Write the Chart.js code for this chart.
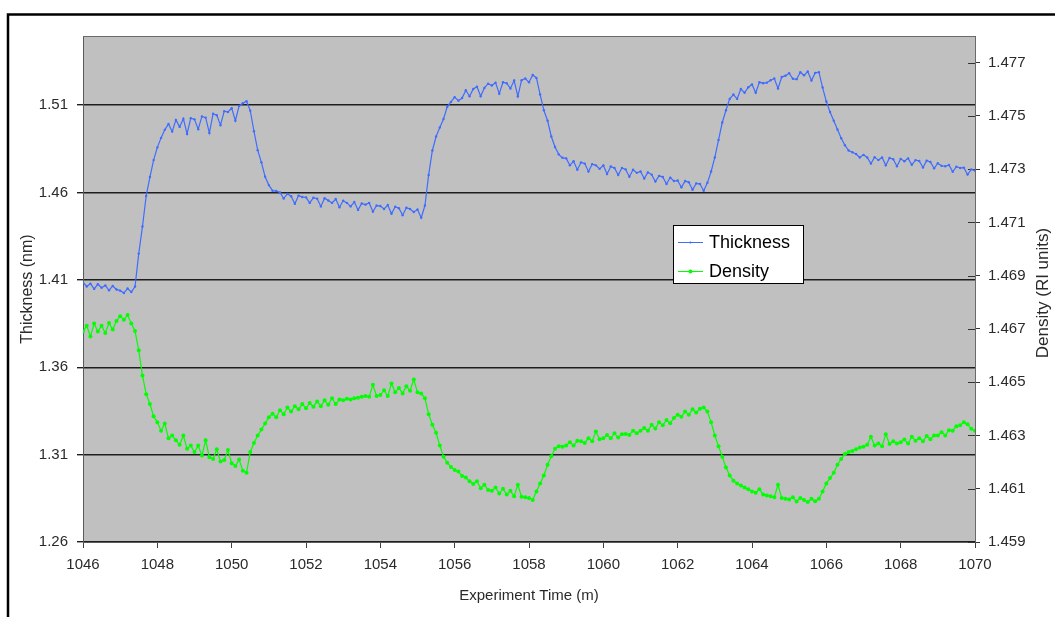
<!DOCTYPE html>
<html>
<head>
<meta charset="utf-8">
<script src="https://cdn.jsdelivr.net/npm/chart.js@4.4.1/dist/chart.umd.min.js"></script>
<style>
  html, body { margin: 0; padding: 0; background: #ffffff; }
  #c { display: block; }
</style>
</head>
<body>
<canvas id="c" width="1055" height="617"></canvas>
<script>
// ---- DATA ----
const times = [
1046.0,1046.1,1046.2,1046.3,1046.4,1046.5,1046.6,1046.7,1046.8,1046.9,
1047.0,1047.1,1047.2,1047.3,1047.4,1047.5,1047.6,1047.7,1047.8,1047.9,
1048.0,1048.1,1048.2,1048.3,1048.4,1048.5,1048.6,1048.7,1048.8,1048.9,
1049.0,1049.1,1049.2,1049.3,1049.4,1049.5,1049.6,1049.7,1049.8,1049.9,
1050.0,1050.1,1050.2,1050.3,1050.4,1050.5,1050.6,1050.7,1050.8,1050.9,
1051.0,1051.1,1051.2,1051.3,1051.4,1051.5,1051.6,1051.7,1051.8,1051.9,
1052.0,1052.1,1052.2,1052.3,1052.4,1052.5,1052.6,1052.7,1052.8,1052.9,
1053.0,1053.1,1053.2,1053.3,1053.4,1053.5,1053.6,1053.7,1053.8,1053.9,
1054.0,1054.1,1054.2,1054.3,1054.4,1054.5,1054.6,1054.7,1054.8,1054.9,
1055.0,1055.1,1055.2,1055.3,1055.4,1055.5,1055.6,1055.7,1055.8,1055.9,
1056.0,1056.1,1056.2,1056.3,1056.4,1056.5,1056.6,1056.7,1056.8,1056.9,
1057.0,1057.1,1057.2,1057.3,1057.4,1057.5,1057.6,1057.7,1057.8,1057.9,
1058.0,1058.1,1058.2,1058.3,1058.4,1058.5,1058.6,1058.7,1058.8,1058.9,
1059.0,1059.1,1059.2,1059.3,1059.4,1059.5,1059.6,1059.7,1059.8,1059.9,
1060.0,1060.1,1060.2,1060.3,1060.4,1060.5,1060.6,1060.7,1060.8,1060.9,
1061.0,1061.1,1061.2,1061.3,1061.4,1061.5,1061.6,1061.7,1061.8,1061.9,
1062.0,1062.1,1062.2,1062.3,1062.4,1062.5,1062.6,1062.7,1062.8,1062.9,
1063.0,1063.1,1063.2,1063.3,1063.4,1063.5,1063.6,1063.7,1063.8,1063.9,
1064.0,1064.1,1064.2,1064.3,1064.4,1064.5,1064.6,1064.7,1064.8,1064.9,
1065.0,1065.1,1065.2,1065.3,1065.4,1065.5,1065.6,1065.7,1065.8,1065.9,
1066.0,1066.1,1066.2,1066.3,1066.4,1066.5,1066.6,1066.7,1066.8,1066.9,
1067.0,1067.1,1067.2,1067.3,1067.4,1067.5,1067.6,1067.7,1067.8,1067.9,
1068.0,1068.1,1068.2,1068.3,1068.4,1068.5,1068.6,1068.7,1068.8,1068.9,
1069.0,1069.1,1069.2,1069.3,1069.4,1069.5,1069.6,1069.7,1069.8,1069.9,
1070.0
];

const thickness = [
1.4085,1.4062,1.4078,1.4048,1.4075,1.4055,1.4068,1.4040,1.4065,1.4045,
1.4038,1.4025,1.4050,1.4030,1.4062,1.4250,1.4405,1.4580,1.4688,1.4785,
1.4858,1.4912,1.4958,1.4992,1.4948,1.5015,1.4975,1.5022,1.4935,1.5025,
1.5018,1.4962,1.5035,1.5028,1.4940,1.5050,1.5042,1.4985,1.5065,1.5060,
1.5082,1.5010,1.5095,1.5110,1.5122,1.5068,1.4950,1.4842,1.4772,1.4690,
1.4642,1.4610,1.4608,1.4600,1.4565,1.4592,1.4578,1.4535,1.4582,1.4574,
1.4572,1.4540,1.4570,1.4564,1.4520,1.4567,1.4554,1.4540,1.4562,1.4515,
1.4552,1.4540,1.4520,1.4545,1.4500,1.4537,1.4530,1.4540,1.4490,1.4525,
1.4522,1.4505,1.4528,1.4478,1.4518,1.4510,1.4470,1.4512,1.4505,1.4488,
1.4502,1.4455,1.4525,1.4700,1.4840,1.4920,1.4972,1.5020,1.5090,1.5118,
1.5145,1.5125,1.5140,1.5185,1.5150,1.5192,1.5205,1.5150,1.5198,1.5222,
1.5212,1.5228,1.5165,1.5230,1.5225,1.5195,1.5240,1.5150,1.5242,1.5252,
1.5230,1.5272,1.5255,1.5160,1.5070,1.5010,1.4920,1.4860,1.4818,1.4798,
1.4795,1.4755,1.4778,1.4730,1.4772,1.4765,1.4720,1.4762,1.4755,1.4735,
1.4755,1.4705,1.4748,1.4740,1.4700,1.4740,1.4732,1.4690,1.4730,1.4712,
1.4720,1.4680,1.4715,1.4702,1.4662,1.4695,1.4688,1.4648,1.4685,1.4665,
1.4668,1.4630,1.4665,1.4658,1.4615,1.4652,1.4648,1.4610,1.4655,1.4720,
1.4800,1.4900,1.5000,1.5070,1.5135,1.5160,1.5135,1.5192,1.5170,1.5202,
1.5218,1.5170,1.5230,1.5225,1.5228,1.5242,1.5252,1.5195,1.5260,1.5268,
1.5282,1.5250,1.5248,1.5288,1.5270,1.5292,1.5240,1.5284,1.5288,1.5200,
1.5120,1.5060,1.5010,1.4960,1.4910,1.4870,1.4840,1.4830,1.4820,1.4800,
1.4815,1.4800,1.4765,1.4802,1.4785,1.4800,1.4755,1.4797,1.4790,1.4750,
1.4792,1.4778,1.4795,1.4758,1.4785,1.4780,1.4742,1.4782,1.4774,1.4738,
1.4767,1.4752,1.4750,1.4757,1.4718,1.4747,1.4740,1.4742,1.4702,1.4732,
1.4725
];

const density = [
1.46690,1.46712,1.46672,1.46720,1.46690,1.46712,1.46685,1.46722,1.46698,1.46730,
1.46748,1.46735,1.46752,1.46720,1.46692,1.46620,1.46525,1.46455,1.46418,1.46372,
1.46350,1.46318,1.46345,1.46290,1.46300,1.46282,1.46265,1.46300,1.46250,1.46262,
1.46238,1.46262,1.46225,1.46282,1.46218,1.46212,1.46248,1.46202,1.46208,1.46245,
1.46196,1.46185,1.46210,1.46168,1.46160,1.46238,1.46272,1.46300,1.46322,1.46345,
1.46368,1.46382,1.46368,1.46395,1.46380,1.46405,1.46390,1.46410,1.46398,1.46418,
1.46402,1.46422,1.46408,1.46428,1.46410,1.46432,1.46415,1.46440,1.46418,1.46435,
1.46432,1.46438,1.46435,1.46440,1.46442,1.46445,1.46448,1.46445,1.46490,1.46448,
1.46452,1.46470,1.46448,1.46495,1.46462,1.46478,1.46458,1.46485,1.46468,1.46510,
1.46462,1.46458,1.46440,1.46380,1.46340,1.46310,1.46262,1.46220,1.46198,1.46182,
1.46170,1.46165,1.46148,1.46142,1.46128,1.46118,1.46128,1.46102,1.46115,1.46095,
1.46092,1.46105,1.46082,1.46100,1.46078,1.46092,1.46072,1.46115,1.46070,1.46068,
1.46065,1.46058,1.46090,1.46120,1.46150,1.46190,1.46222,1.46250,1.46260,1.46258,
1.46262,1.46275,1.46262,1.46280,1.46278,1.46272,1.46290,1.46278,1.46315,1.46286,
1.46290,1.46302,1.46290,1.46308,1.46292,1.46305,1.46306,1.46302,1.46318,1.46308,
1.46318,1.46328,1.46318,1.46340,1.46326,1.46350,1.46338,1.46358,1.46346,1.46366,
1.46378,1.46370,1.46390,1.46378,1.46398,1.46386,1.46400,1.46405,1.46390,1.46350,
1.46300,1.46260,1.46220,1.46180,1.46150,1.46130,1.46120,1.46112,1.46105,1.46098,
1.46090,1.46085,1.46098,1.46078,1.46075,1.46072,1.46068,1.46115,1.46065,1.46062,
1.46060,1.46068,1.46052,1.46065,1.46058,1.46050,1.46062,1.46053,1.46062,1.46090,
1.46120,1.46140,1.46160,1.46190,1.46212,1.46230,1.46238,1.46242,1.46248,1.46255,
1.46258,1.46265,1.46295,1.46262,1.46270,1.46260,1.46305,1.46268,1.46278,1.46270,
1.46275,1.46285,1.46270,1.46295,1.46280,1.46290,1.46278,1.46298,1.46286,1.46300,
1.46300,1.46312,1.46300,1.46320,1.46318,1.46335,1.46338,1.46350,1.46342,1.46325,
1.46318
];

const xTicks = [1046,1048,1050,1052,1054,1056,1058,1060,1062,1064,1066,1068,1070];
const thicknessTicks = [1.26,1.31,1.36,1.41,1.46,1.51];
const densityTicks = [1.459,1.461,1.463,1.465,1.467,1.469,1.471,1.473,1.475,1.477];
const xRange = [1046, 1070];
const thicknessRange = [1.26, 1.5495];
const densityRange = [1.459, 1.478];
const seriesNames = ['Thickness', 'Density'];
const axisTitles = { x: 'Experiment Time (m)', y: 'Thickness (nm)', y2: 'Density (RI units)' };

// ---- STYLE ----
const FONT = "'Liberation Sans', Arial, sans-serif";
const BLUE = '#3f6cff';
const GREEN = '#00ff00';
const TEXT = '#2a2a2a';

const frameAndBackground = {
  id: 'frameAndBackground',
  beforeDraw(chart) {
    const { ctx, chartArea: a } = chart;
    ctx.save();
    ctx.fillStyle = '#ffffff';
    ctx.fillRect(0, 0, chart.width, chart.height);
    ctx.strokeStyle = '#000000';
    ctx.lineWidth = 2.5;
    ctx.strokeRect(8, 14.5, chart.width + 50, chart.height + 50);
    ctx.fillStyle = '#c0c0c0';
    ctx.fillRect(a.left, a.top, a.right - a.left, a.bottom - a.top);
    ctx.restore();
  },
  beforeDatasetsDraw(chart) {
    const { ctx, chartArea: a } = chart;
    ctx.save();
    ctx.strokeStyle = '#6a6a6a';
    ctx.lineWidth = 1;
    ctx.beginPath();
    ctx.moveTo(a.left, a.top + 0.5);
    ctx.lineTo(a.right + 0.5, a.top + 0.5);
    ctx.lineTo(a.right + 0.5, a.bottom);
    ctx.stroke();
    // inward tick marks on right axis
    const s = chart.scales.y2;
    ctx.strokeStyle = '#333333';
    ctx.beginPath();
    s.ticks.forEach(t => {
      const y = Math.round(s.getPixelForValue(t.value)) + 0.5;
      ctx.moveTo(a.right - 7, y);
      ctx.lineTo(a.right, y);
    });
    ctx.stroke();
    ctx.restore();
  },
  afterDraw(chart) {
    const { ctx, chartArea: a } = chart;
    ctx.save();
    // right axis title (reads bottom-to-top)
    ctx.fillStyle = TEXT;
    ctx.font = '17px ' + FONT;
    ctx.textAlign = 'center';
    ctx.textBaseline = 'middle';
    ctx.translate(1043, (a.top + a.bottom) / 2 + 4);
    ctx.rotate(-Math.PI / 2);
    ctx.fillText(axisTitles.y2, 0, 0);
    ctx.restore();

    // legend box
    ctx.save();
    const bx = 673, by = 225, bw = 130, bh = 58;
    ctx.fillStyle = '#ffffff';
    ctx.fillRect(bx, by, bw, bh);
    ctx.strokeStyle = '#000000';
    ctx.lineWidth = 1;
    ctx.strokeRect(bx + 0.5, by + 0.5, bw, bh);
    chart.data.datasets.forEach((ds, i) => {
      const y = by + 17 + i * 29;
      ctx.strokeStyle = ds.borderColor;
      ctx.lineWidth = 1;
      ctx.beginPath();
      ctx.moveTo(bx + 5, y + 0.5);
      ctx.lineTo(bx + 30, y + 0.5);
      ctx.stroke();
      ctx.fillStyle = ds.borderColor;
      ctx.beginPath();
      ctx.arc(bx + 17.5, y + 0.5, i === 0 ? 1 : 2, 0, Math.PI * 2);
      ctx.fill();
      ctx.fillStyle = '#000000';
      ctx.font = '18px ' + FONT;
      ctx.textAlign = 'left';
      ctx.textBaseline = 'middle';
      ctx.fillText(ds.label, bx + 36, y + 1);
    });
    ctx.restore();
  }
};

const mk = (vals) => times.map((t, i) => ({ x: t, y: vals[i] }));

new Chart(document.getElementById('c'), {
  type: 'line',
  data: {
    datasets: [
      {
        label: seriesNames[0],
        data: mk(thickness),
        yAxisID: 'y',
        borderColor: BLUE,
        backgroundColor: BLUE,
        borderWidth: 1.2,
        pointRadius: 1.2,
        pointBorderWidth: 0,
        pointBackgroundColor: BLUE,
        tension: 0,
        fill: false
      },
      {
        label: seriesNames[1],
        data: mk(density),
        yAxisID: 'y2',
        borderColor: GREEN,
        backgroundColor: GREEN,
        borderWidth: 1.2,
        pointRadius: 2,
        pointBorderWidth: 0,
        pointBackgroundColor: GREEN,
        tension: 0,
        fill: false
      }
    ]
  },
  options: {
    responsive: false,
    animation: false,
    devicePixelRatio: 1,
    layout: { padding: { top: 36, left: 0, right: 0, bottom: 0 } },
    plugins: { legend: { display: false }, tooltip: { enabled: false }, title: { display: false } },
    scales: {
      x: {
        type: 'linear',
        position: 'bottom',
        min: xRange[0],
        max: xRange[1],
        afterFit(s) { s.height = 75; },
        afterBuildTicks(s) { s.ticks = xTicks.map(v => ({ value: v })); },
        ticks: {
          color: TEXT,
          font: { family: FONT, size: 15 },
          padding: 8,
          maxRotation: 0,
          autoSkip: false,
          callback: v => String(v)
        },
        grid: { drawOnChartArea: false, drawTicks: true, tickLength: 6, color: '#404040', lineWidth: 1 },
        border: { display: true, color: '#5a5a5a', width: 1 },
        title: {
          display: true,
          text: axisTitles.x,
          color: TEXT,
          font: { family: FONT, size: 15 },
          padding: { top: 0, bottom: 12 }
        }
      },
      y: {
        type: 'linear',
        position: 'left',
        min: thicknessRange[0],
        max: thicknessRange[1],
        afterFit(s) { s.width = 83; },
        afterBuildTicks(s) { s.ticks = thicknessTicks.map(v => ({ value: v })); },
        ticks: {
          color: TEXT,
          font: { family: FONT, size: 15 },
          padding: 9,
          autoSkip: false,
          callback: v => v.toFixed(2)
        },
        grid: { drawOnChartArea: true, drawTicks: true, tickLength: 6, color: '#1e1e1e', lineWidth: 1.4 },
        border: { display: true, color: '#5a5a5a', width: 1 },
        title: {
          display: true,
          text: axisTitles.y,
          color: TEXT,
          font: { family: FONT, size: 16 },
          padding: { top: 18, bottom: 0 }
        }
      },
      y2: {
        type: 'linear',
        position: 'right',
        min: densityRange[0],
        max: densityRange[1],
        afterFit(s) { s.width = 80; },
        afterBuildTicks(s) { s.ticks = densityTicks.map(v => ({ value: v })); },
        ticks: {
          color: TEXT,
          font: { family: FONT, size: 15 },
          padding: 8,
          autoSkip: false,
          callback: v => v.toFixed(3)
        },
        grid: { drawOnChartArea: false, drawTicks: true, tickLength: 5, color: '#333333', lineWidth: 1 },
        border: { display: true, color: '#5a5a5a', width: 1 },
        title: { display: false }
      }
    }
  },
  plugins: [frameAndBackground]
});
</script>
</body>
</html>
